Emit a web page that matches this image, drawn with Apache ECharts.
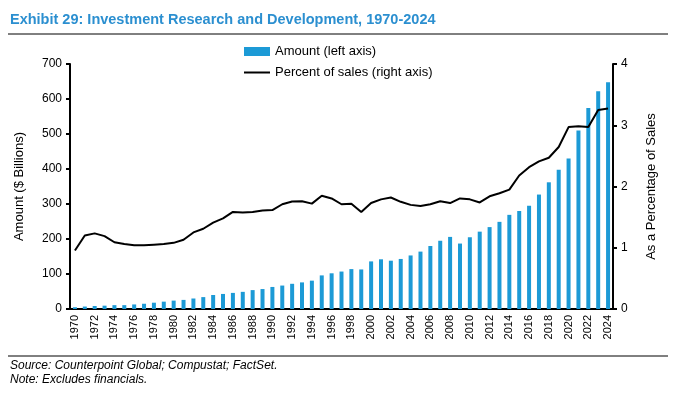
<!DOCTYPE html>
<html><head><meta charset="utf-8">
<script src="https://cdn.jsdelivr.net/npm/echarts@6/dist/echarts.min.js"></script>
<style>html,body{margin:0;padding:0;background:#fff}#c{width:676px;height:394px}</style>
</head><body><div id="c"></div>
<script>
var years = [];
for (var y = 1970; y <= 2024; y++) years.push(String(y));
var amount = [5,7,8.6,9.5,11,11,13,15,18,21,24,26,30,34,40,43,46,49,54,57,63,67,72,76,81,96,102,107,114,113,136,142,138,143,153,164,180,195,206,187,205,221,234,249,269,280,295,327,362,398,430,510,574,622,648];
var percent = [0.955,1.20,1.235,1.19,1.09,1.06,1.04,1.04,1.05,1.06,1.08,1.13,1.25,1.31,1.41,1.48,1.585,1.575,1.585,1.61,1.615,1.71,1.755,1.76,1.72,1.85,1.805,1.71,1.72,1.585,1.73,1.79,1.82,1.75,1.70,1.68,1.71,1.76,1.73,1.805,1.79,1.74,1.84,1.89,1.95,2.18,2.315,2.41,2.47,2.645,2.97,2.985,2.97,3.25,3.275];
var leftTicks = [0,100,200,300,400,500,600,700];
var rightTicks = [0,1,2,3,4];

var font = '"Liberation Sans", Arial, sans-serif';
var chart = echarts.init(document.getElementById('c'));
chart.setOption({
  animation: false,
  textStyle: {fontFamily: font},
  title: [
    {text: 'Exhibit 29: Investment Research and Development, 1970-2024', left: 5, top: 7,
     textStyle: {color: '#2B8FD0', fontSize: 14.5, fontWeight: 'bold', fontFamily: font}},
    {text: 'Source: Counterpoint Global; Compustat; FactSet.\nNote: Excludes financials.', left: 5, top: 354,
     textStyle: {color: '#000', fontSize: 12, fontStyle: 'italic', fontWeight: 'normal', lineHeight: 14, fontFamily: font}}
  ],
  graphic: [
    {type: 'line', shape: {x1: 8, y1: 34, x2: 668, y2: 34}, style: {stroke: '#000', lineWidth: 1}},
    {type: 'line', shape: {x1: 8, y1: 356, x2: 668, y2: 356}, style: {stroke: '#000', lineWidth: 1}}
  ],
  legend: {
    orient: 'vertical', left: 238, top: 40, itemGap: 8, itemWidth: 26, itemHeight: 9,
    textStyle: {fontSize: 13, color: '#000', fontFamily: font},
    data: [{name: 'Amount (left axis)', icon: 'rect'},
           {name: 'Percent of sales (right axis)', itemStyle: {opacity: 0}}]
  },
  grid: {left: 70, right: 63, top: 64, bottom: 85},
  xAxis: {
    type: 'category', data: years, boundaryGap: true,
    axisLine: {lineStyle: {color: '#000', width: 2}},
    axisTick: {show: false},
    axisLabel: {rotate: 90, interval: 1, fontSize: 11, color: '#000', margin: 6}
  },
  yAxis: [
    {type: 'value', min: 0, max: 700, interval: 100, position: 'left',
     name: 'Amount ($ Billions)', nameLocation: 'middle', nameGap: 44, nameRotate: 90,
     nameTextStyle: {fontSize: 13, color: '#000'},
     axisLine: {show: true, lineStyle: {color: '#000', width: 2}},
     axisTick: {show: true, length: 4, lineStyle: {color: '#000', width: 2}},
     axisLabel: {fontSize: 12, color: '#000', margin: 8,
       formatter: function (v) { return leftTicks.indexOf(v) >= 0 ? String(v) : ''; }},
     splitLine: {show: false}},
    {type: 'value', min: 0, max: 4, interval: 1, position: 'right',
     name: 'As a Percentage of Sales', nameLocation: 'middle', nameGap: 32, nameRotate: 90,
     nameTextStyle: {fontSize: 13, color: '#000'},
     axisLine: {show: true, lineStyle: {color: '#000', width: 2}},
     axisTick: {show: true, length: 4, lineStyle: {color: '#000', width: 2}},
     axisLabel: {fontSize: 12, color: '#000', margin: 8,
       formatter: function (v) { return rightTicks.indexOf(v) >= 0 ? String(v) : ''; }},
     splitLine: {show: false}}
  ],
  series: [
    {name: 'Amount (left axis)', type: 'bar', data: amount, yAxisIndex: 0, barWidth: 4,
     itemStyle: {color: '#1C9AD6'}},
    {name: 'Percent of sales (right axis)', type: 'line', data: percent, yAxisIndex: 1,
     symbol: 'none', lineStyle: {color: '#000', width: 2}, itemStyle: {color: '#000'}}
  ]
});
</script></body></html>
